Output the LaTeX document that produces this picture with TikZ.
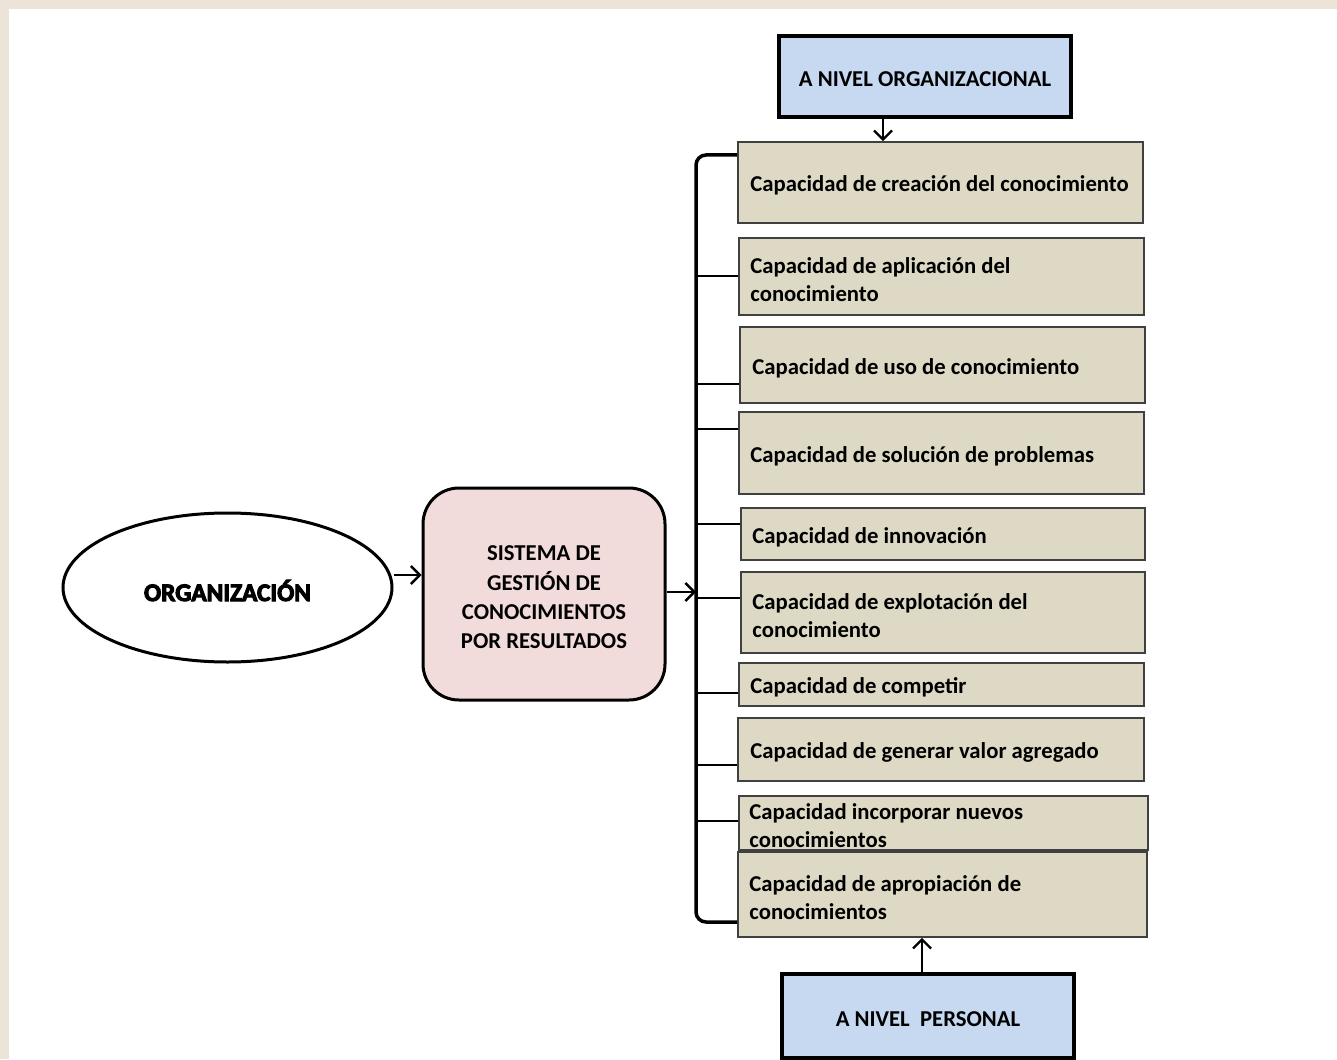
\documentclass[tikz,border=0pt]{standalone}
\usepackage{fontspec}
\setmainfont{Carlito}
\newfontface\heavyface[FakeBold=4]{Carlito Bold}
\usetikzlibrary{arrows.meta,shapes.geometric,calc}

\definecolor{paper}{HTML}{EDE4D9}
\definecolor{capfill}{HTML}{DDD9C4}
\definecolor{capline}{HTML}{404040}
\definecolor{levelfill}{HTML}{C6D9F1}
\definecolor{sysfill}{HTML}{F2DCDB}

\tikzset{
  capbox/.style={draw=capline, fill=capfill, line width=1.6pt, rectangle,
    inner sep=0pt},
  captext/.style={anchor=west, inner sep=0pt, align=left,
    font=\bfseries\fontsize{22.7}{28}\selectfont},
  levelbox/.style={draw=black, fill=levelfill, line width=4pt, rectangle,
    inner sep=0pt, font=\bfseries\fontsize{22.7}{28}\selectfont},
  sysbox/.style={draw=black, fill=sysfill, line width=3pt, rectangle,
    rounded corners=36pt, inner sep=0pt, align=center,
    font=\bfseries\fontsize{22.7}{29.3}\selectfont},
  orgshape/.style={draw=black, fill=white, line width=3pt, ellipse,
    inner sep=0pt},
  arr/.style={line width=2.2pt, -{Straight Barb[length=9pt,width=18pt,line width=2.4pt]}},
  tick/.style={line width=2.5pt},
  spine/.style={line width=3.5pt, rounded corners=10pt},
}

% shift a text down without changing the size TikZ sees
\newcommand\lowered[2]{\raisebox{-#1}[\height][\depth]{#2}}

% capability box from its corners (x1,y1) to (x2,y2), y measured downwards,
% with its text set left-aligned just inside the left edge
\newcommand\capnode[7]{%
  \pgfmathsetmacro\capw{#4-#2}%
  \pgfmathsetmacro\caph{#5-#3}%
  \node[capbox, minimum width=\capw pt, minimum height=\caph pt]
    (#1) at ({(#2+#4)/2},{(#3+#5)/2}) {};
  \node[captext] (#1t) at ($(#1.west)+(#6,3)$) {#7};}

\begin{document}
\begin{tikzpicture}[x=1pt,y=-1pt]
  % sheet
  \useasboundingbox (0,0) rectangle (1337,1059);
  \fill[paper] (0,0) rectangle (1337,1059);
  \fill[white] (9,9) rectangle (1337,1059);

  % left side
  \node[orgshape, minimum width=329pt, minimum height=149pt] (org) at (227.5,587.5)
    {\lowered{3pt}{\heavyface\fontsize{25.3}{28}\selectfont ORGANIZACIÓN}};
  \node[sysbox, minimum width=242pt, minimum height=212pt] (sys) at (544,594)
    {\lowered{3.5pt}{\parbox{230pt}{\centering SISTEMA DE\\GESTIÓN DE\\CONOCIMIENTOS\\POR RESULTADOS}}};

  % level boxes
  \node[levelbox, minimum width=292pt, minimum height=81pt] (orglvl) at (925,76.5)
    {\lowered{3pt}{A NIVEL ORGANIZACIONAL}};
  \node[levelbox, minimum width=292pt, minimum height=84pt] (perlvl) at (928,1016)
    {\lowered{3pt}{A NIVEL\ \ PERSONAL}};

  % capability boxes
  \capnode{b1}{738}{142}{1143}{223}{13}{Capacidad de creación del conocimiento}
  \capnode{b2}{739}{238}{1144}{315}{12}{Capacidad de aplicación del\\conocimiento}
  \capnode{b3}{740}{327}{1145}{403}{13}{Capacidad de uso de conocimiento}
  \capnode{b4}{739}{412}{1144}{494}{12}{Capacidad de solución de problemas}
  \capnode{b5}{741}{508}{1145}{560}{12}{Capacidad de innovación}
  \capnode{b6}{741}{572}{1145}{653}{12}{Capacidad de explotación del\\conocimiento}
  \capnode{b7}{739}{663}{1144}{706}{12}{Capacidad de competir}
  \capnode{b8}{738}{718}{1144}{781}{13}{Capacidad de generar valor agregado}
  \capnode{b9}{739}{796}{1148}{850}{11}{Capacidad incorporar nuevos\\conocimientos}
  \capnode{b10}{738}{852}{1147}{937}{12}{Capacidad de apropiación de\\conocimientos}

  % grouping bracket
  \coordinate (sptop) at (696,155);
  \coordinate (spbot) at (696,922);
  \draw[spine] (b1.west |- 0,155) -- (sptop) -- (spbot) -- (b10.west |- 0,922);
  \foreach \b/\y in {b2/276, b3/384, b4/429, b5/524, b6/598, b7/693, b8/765, b9/821}
    \draw[tick] (sptop |- 0,\y) -- (\b.west |- 0,\y);

  % flow arrows
  \draw[arr] (org.east |- 0,575) -- (sys.west |- 0,575);
  \draw[arr] (sys.east |- 0,592) -- (sptop |- 0,592);
  \draw[arr] (orglvl.south -| 883,0) -- (b1.north -| 883,0);
  \draw[arr] (perlvl.north -| 922,0) -- (b10.south -| 922,0);
\end{tikzpicture}
\end{document}
